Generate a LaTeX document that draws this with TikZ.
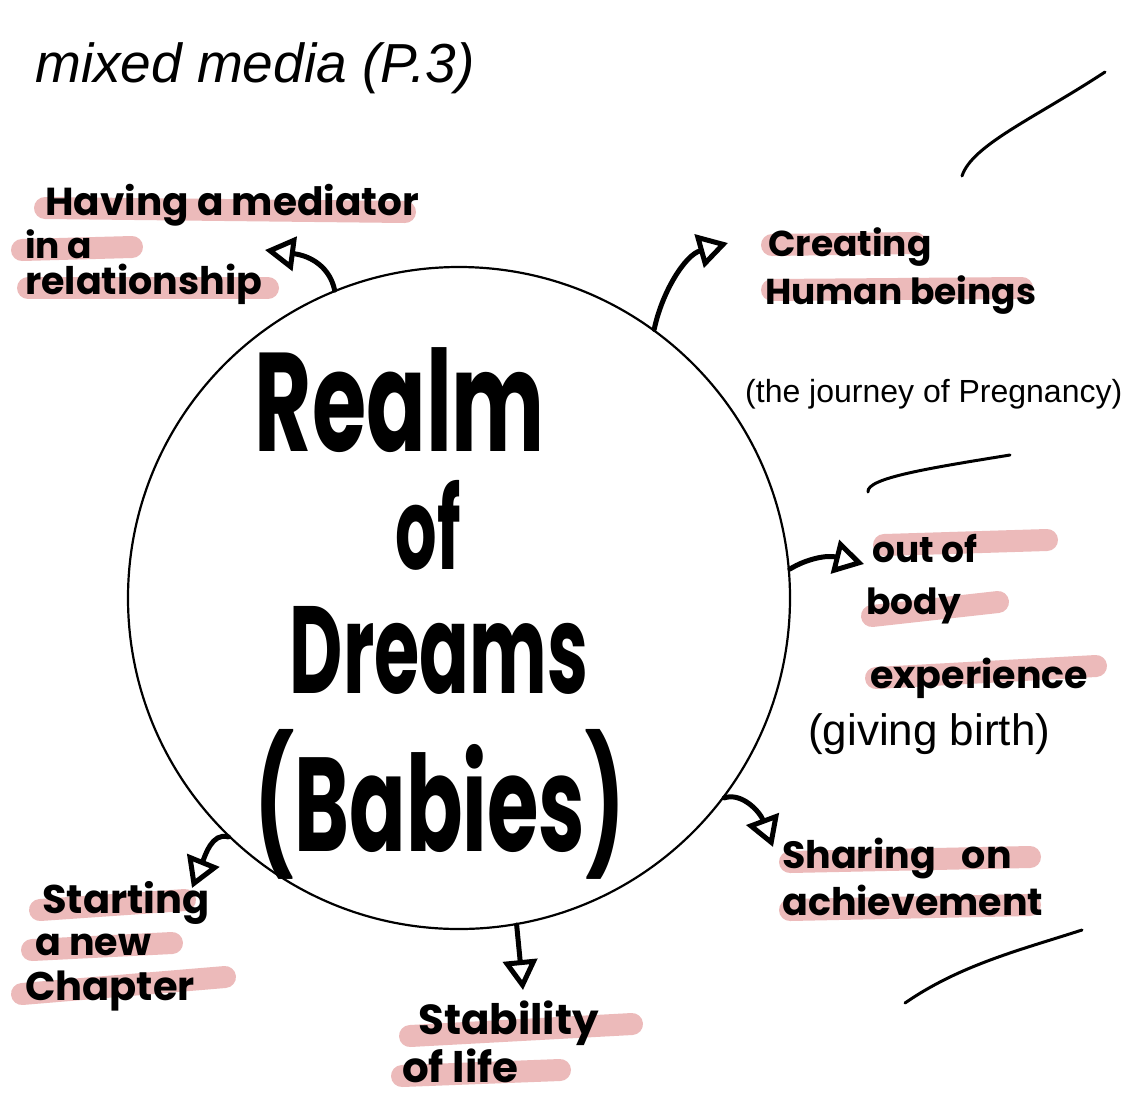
\documentclass[tikz,border=0pt]{standalone}
\usepackage{graphicx}
\usepackage{fontspec}
\setmainfont{Poppins}
\newfontfamily\thinfont{Liberation Sans}
\usetikzlibrary{arrows.meta}
\definecolor{hlpink}{RGB}{236,186,186}
\newcommand{\fitto}[3]{\resizebox*{#1pt}{#2pt}{\bfseries #3}}
\begin{document}
\begin{tikzpicture}[x=1pt,y=-1pt,
  hl/.style={draw=hlpink,line width=22pt,line cap=round},
  lbl/.style={font=\fontsize{36}{38}\selectfont\bfseries, inner sep=0pt, anchor=base west, text=black},
  thin/.style={font=\thinfont\fontsize{38}{40}\selectfont, inner sep=0pt, anchor=base west, text=black},
  big/.style={inner sep=0pt, text=black},
  arr/.style={line width=5pt, line cap=round, -{Triangle[open,length=30pt,width=34pt,line width=5pt]}},
  stroke/.style={line width=3pt, line cap=round}]
\useasboundingbox (0,0) rectangle (1145,1101);
\fill[white] (0,0) rectangle (1145,1101);

% highlights
\draw[hl] (45,208) -- (405,212);
\draw[hl] (22,250) -- (132,247);
\draw[hl] (28,288) -- (268,288);
\draw[hl] (772,245) -- (915,243);
\draw[hl] (772,290) -- (1022,288);
\draw[hl] (884,545) -- (1047,540);
\draw[hl] (872,616) -- (998,602);
\draw[hl] (876,678) -- (1096,666);
\draw[hl] (790,862) -- (1030,857);
\draw[hl] (790,910) -- (1030,905);
\draw[hl] (40,910) -- (185,900);
\draw[hl] (32,950) -- (172,943);
\draw[hl] (22,994) -- (225,977);
\draw[hl] (410,1036) -- (632,1024);
\draw[hl] (402,1076) -- (560,1070);

% title
\node[thin, font=\thinfont\itshape\fontsize{55}{58}\selectfont] (title) at (35,82) {mixed media (P.3)};

% circle
\node[draw, circle, line width=2.2pt, minimum size=662pt, inner sep=0pt] (C) at (459,598) {};

% centre text
\node[big] (realm) at (400,400) {\fitto{290}{105}{Realm}};
\node[big] (of) at (428,525) {\fitto{65}{90}{of}};
\node[big] (dreams) at (439,650) {\fitto{298}{88}{Dreams}};
\node[big] (babies) at (440,804) {\fitto{370}{150}{(Babies)}};

% labels
\node[lbl, font=\fontsize{39}{40}\selectfont\bfseries] (med1) at (45,215) {Having a mediator};
\node[lbl] (med2) at (25,258) {in a};
\node[lbl, font=\fontsize{38}{40}\selectfont\bfseries] (med3) at (25,294) {relationship};

\node[lbl] (cre1) at (768,256) {Creating};
\node[lbl] (cre2) at (765,304) {Human beings};
\node[thin, font=\thinfont\fontsize{32}{34}\selectfont] (cre3) at (745,402) {(the journey of Pregnancy)};

\node[lbl] (out1) at (872,562) {out of};
\node[lbl] (out2) at (866,614) {body};
\node[lbl, font=\fontsize{38}{40}\selectfont\bfseries] (out3) at (870,688) {experience};
\node[thin, font=\thinfont\fontsize{44}{46}\selectfont] (out4) at (808,745) {(giving birth)};

\node[lbl, font=\fontsize{38}{40}\selectfont\bfseries] (sha1) at (782,868) {Sharing\hspace{26pt}on};
\node[lbl, font=\fontsize{38}{40}\selectfont\bfseries] (sha2) at (782,915) {achievement};

\node[lbl, font=\fontsize{40}{42}\selectfont\bfseries] (sta1) at (42,913) {Starting};
\node[lbl, font=\fontsize{38}{40}\selectfont\bfseries] (sta2) at (35,955) {a new};
\node[lbl, font=\fontsize{40}{42}\selectfont\bfseries] (sta3) at (25,1000) {Chapter};

\node[lbl, font=\fontsize{42}{44}\selectfont\bfseries] (stb1) at (418,1034) {Stability};
\node[lbl, font=\fontsize{42}{44}\selectfont\bfseries] (stb2) at (402,1082) {of life};

% arrow tips and bends
\coordinate (medtip) at (265,250);
\coordinate (medc1) at (330,268); \coordinate (medc2) at (312,256);
\coordinate (cretip) at (728,243);
\coordinate (crec1) at (662,292); \coordinate (crec2) at (685,255);
\coordinate (outtip) at (864,564);
\coordinate (outc1) at (808,558); \coordinate (outc2) at (828,555);
\coordinate (shatip) at (773,847);
\coordinate (shac1) at (742,792); \coordinate (shac2) at (760,812);
\coordinate (statip) at (192,888);
\coordinate (stac1) at (212,832); \coordinate (stac2) at (205,856);
\coordinate (stbtip) at (523,990);

% connectors
\draw[arr] (C.112) .. controls (medc1) and (medc2) .. (medtip);
\draw[arr] (C.54) .. controls (crec1) and (crec2) .. (cretip);
\draw[arr] (C.5) .. controls (outc1) and (outc2) .. (outtip);
\draw[arr] (C.-37) .. controls (shac1) and (shac2) .. (shatip);
\draw[arr] (C.226) .. controls (stac1) and (stac2) .. (statip);
\draw[arr] (C.-80.5) -- (stbtip);

% loose strokes
\coordinate (s1a) at (962,176); \coordinate (s1b) at (1105,72);
\coordinate (s2a) at (868,492); \coordinate (s2b) at (1010,455);
\coordinate (s3a) at (905,1003); \coordinate (s3b) at (1082,930);
\draw[stroke] (s1a) .. controls (972,145) and (1035,118) .. (s1b);
\draw[stroke] (s2a) .. controls (866,478) and (930,468) .. (s2b);
\draw[stroke] (s3a) .. controls (960,965) and (1020,950) .. (s3b);
\end{tikzpicture}
\end{document}
